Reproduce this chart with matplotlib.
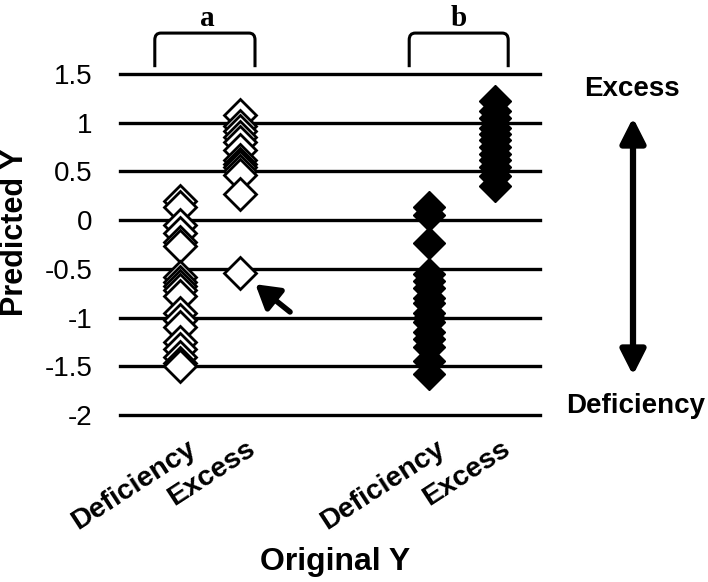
import numpy as np
import matplotlib.pyplot as plt
from matplotlib.path import Path
from matplotlib.patches import PathPatch, FancyArrowPatch

plt.rcParams['font.family'] = ['Liberation Sans', 'DejaVu Sans']

# 카테고리 / 데이터
categories = ['Deficiency', 'Excess', 'Deficiency', 'Excess']
cat_x = [1, 2, 5.15, 6.25]
groups = ['a', 'b']

a_deficiency = [0.2, 0.13, -0.05, -0.13, -0.22, -0.27, -0.58, -0.63, -0.68, -0.72,
                -0.78, -0.95, -1.02, -1.1, -1.25, -1.32, -1.4, -1.47, -1.5]
a_excess = [1.08, 0.97, 0.92, 0.85, 0.8, 0.72, 0.62, 0.58, 0.55, 0.5, 0.46, 0.27, -0.54]
b_deficiency = [0.14, 0.05, -0.23, -0.55, -0.62, -0.7, -0.8, -0.85, -0.95, -1.0,
                -1.05, -1.15, -1.22, -1.3, -1.45, -1.58]
b_excess = [1.22, 1.12, 1.05, 0.95, 0.88, 0.82, 0.75, 0.68, 0.62, 0.55, 0.45, 0.35]

y_ticks = [-2, -1.5, -1, -0.5, 0, 0.5, 1, 1.5]
y_ticklabels = ['-2', '-1.5', '-1', '-0.5', '0', '0.5', '1', '1.5']

fig = plt.figure(figsize=(7.08, 5.82), dpi=100)
ax = fig.add_axes([120/708, 1 - 415/582, 420/708, 341/582])

# 그리드 선 (검정 가로선)
ax.set_ylim(-2, 1.5)
ax.set_xlim(0, 7)
ax.set_yticks(y_ticks)
ax.set_yticklabels(y_ticklabels, fontsize=20)
ax.tick_params(axis='y', length=0, pad=20)
ax.set_xticks([])
ax.yaxis.grid(True, color='black', lw=2.4)
for gl in ax.get_ygridlines():
    gl.set_clip_on(False)
for s in ax.spines.values():
    s.set_visible(False)

# 점 (a: 빈 다이아몬드, b: 채운 다이아몬드)
ms = 16
ax.plot([cat_x[0]] * len(a_deficiency), a_deficiency, 'D', ms=ms, mfc='white', mec='black', mew=2, zorder=3, clip_on=False)
ax.plot([cat_x[1]] * len(a_excess), a_excess, 'D', ms=ms, mfc='white', mec='black', mew=2, zorder=3, clip_on=False)
ax.plot([cat_x[2]] * len(b_deficiency), b_deficiency, 'D', ms=ms, mfc='black', mec='black', mew=1, zorder=3, clip_on=False)
ax.plot([cat_x[3]] * len(b_excess), b_excess, 'D', ms=ms, mfc='black', mec='black', mew=1, zorder=3, clip_on=False)

# x 라벨 (회전)
for x, lab in zip(cat_x, categories):
    ax.text(x + 0.22, -2.32, lab, rotation=33, rotation_mode='anchor', ha='right', va='center',
            fontsize=20.5, fontweight='bold', clip_on=False)

# 괄호 a, b
def bracket(x0, x1, y0, y1, rx=0.1, ry=0.07):
    verts = [(x0, y0), (x0, y1 - ry), (x0, y1), (x0 + rx, y1), (x1 - rx, y1), (x1, y1), (x1, y1 - ry), (x1, y0)]
    codes = [Path.MOVETO, Path.LINETO, Path.CURVE3, Path.CURVE3, Path.LINETO, Path.CURVE3, Path.CURVE3, Path.LINETO]
    ax.add_patch(PathPatch(Path(verts, codes), fill=False, lw=2.2, color='black', clip_on=False))

bracket(0.58, 2.25, 1.57, 1.92)
bracket(4.82, 6.47, 1.57, 1.92)
ax.text(1.45, 2.07, groups[0], ha='center', va='center', fontsize=21, fontweight='bold', family='Liberation Serif', clip_on=False)
ax.text(5.65, 2.07, groups[1], ha='center', va='center', fontsize=21, fontweight='bold', family='Liberation Serif', clip_on=False)

# 이상치 화살표
ax.annotate('', xy=(2.22, -0.64), xytext=(2.87, -0.96),
            arrowprops=dict(arrowstyle='-|>,head_length=0.7,head_width=0.42', lw=4, color='black', mutation_scale=20))

# 오른쪽 양방향 화살표
fig.patches.append(FancyArrowPatch(
    (633/708, 1 - 378/582), (633/708, 1 - 115/582), transform=fig.transFigure,
    arrowstyle='<|-|>,head_length=0.75,head_width=0.38', lw=4.5, color='black', mutation_scale=20))
fig.text(632/708, 1 - 96/582, 'Excess', ha='center', va='baseline', fontsize=20, fontweight='bold')
fig.text(636/708, 1 - 413/582, 'Deficiency', ha='center', va='baseline', fontsize=20, fontweight='bold')

# 축 제목
fig.text(15/708, 1 - 232/582, 'Predicted Y', rotation=90, ha='center', va='center', fontsize=22, fontweight='bold')
fig.text(335/708, 1 - 562/582, 'Original Y', ha='center', va='center', fontsize=23, fontweight='bold')

plt.savefig('out.png', dpi=100)
